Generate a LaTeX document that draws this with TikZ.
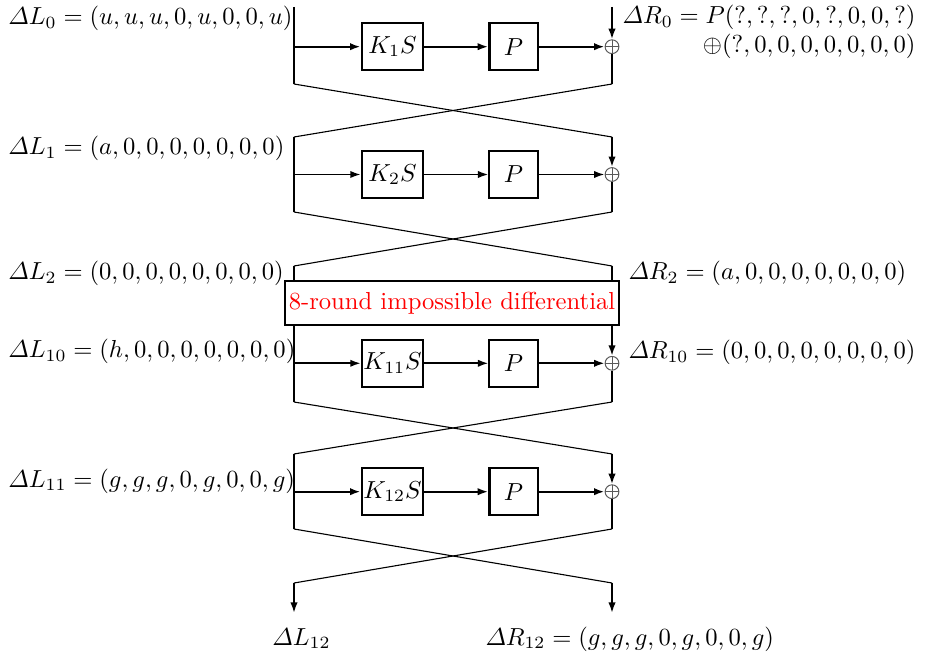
\documentclass[tikz,border=0pt]{standalone}
\usepackage{amsmath}
\usetikzlibrary{arrows.meta}
\begin{document}
\begin{tikzpicture}[x=0.4065pt,y=-0.4065pt,
  arr/.style={-{Latex[length=4.3pt,width=3pt]}},
  vline/.style={line width=0.8pt},
  hthick/.style={line width=0.9pt},
  hnorm/.style={line width=0.75pt},
  crossline/.style={line width=0.45pt},
  kbox/.style={draw,inner sep=0pt,minimum width=25pt,minimum height=19pt},
  pbox/.style={draw,inner sep=0pt,minimum width=19.6pt,minimum height=19pt},
  xorn/.style={draw=black!65,line width=0.4pt,circle,inner sep=0pt,minimum size=5.6pt,
    path picture={\draw[black!65,line width=0.4pt] (path picture bounding box.north) -- (path picture bounding box.south)
      (path picture bounding box.west) -- (path picture bounding box.east);}},
  lab/.style={inner sep=0pt},
  bigbox/.style={draw,line width=0.95pt,inner sep=0pt,minimum width=135.8pt,minimum height=17.9pt,text=red}
]
\useasboundingbox (0,0) rectangle (927,654);
% ---------- round 1
\coordinate (l1t) at (294,7);
\coordinate (r1t) at (612,7);
\coordinate (l1h) at (294,46.7);
\coordinate (l1a) at (294,84);
\coordinate (r1a) at (612,84);
\coordinate (l1b) at (294,137);
\coordinate (r1b) at (612,137);
\node[kbox,line width=0.9pt] (k1) at (392.5,46.7) {$K_1S$};
\node[pbox,line width=0.9pt] (p1) at (513.5,46.7) {$P$};
\node[xorn] (x1) at (612,46.7) {};
\draw[vline] (l1t) -- (l1a);
\draw[vline,arr] (r1t) -- (x1.north);
\draw[vline] (x1.south) -- (r1a);
\draw[hthick,arr] (l1h) -- (k1.west);
\draw[hthick,arr] (k1.east) -- (p1.west);
\draw[hthick,arr] (p1.east) -- (x1.west);
\draw[crossline] (l1a) -- (r1b);
\draw[crossline] (r1a) -- (l1b);
% ---------- round 2
\coordinate (l2h) at (294,174.5);
\coordinate (l2a) at (294,212);
\coordinate (r2a) at (612,212);
\coordinate (l2b) at (294,266);
\coordinate (r2b) at (612,266);
\node[kbox,line width=0.75pt] (k2) at (392.5,174.5) {$K_2S$};
\node[pbox,line width=0.75pt] (p2) at (513.5,174.5) {$P$};
\node[xorn] (x2) at (612,174.5) {};
\draw[vline] (l1b) -- (l2a);
\draw[vline,arr] (r1b) -- (x2.north);
\draw[vline] (x2.south) -- (r2a);
\draw[hnorm,arr] (l2h) -- (k2.west);
\draw[hnorm,arr] (k2.east) -- (p2.west);
\draw[hnorm,arr] (p2.east) -- (x2.west);
\draw[crossline] (l2a) -- (r2b);
\draw[crossline] (r2a) -- (l2b);
% ---------- big box
\node[bigbox] (big) at (452,303) {8-round impossible differential};
\draw[vline] (l2b) -- (l2b |- big.north);
\draw[vline] (r2b) -- (r2b |- big.north);
% ---------- round 11
\coordinate (l11s) at (294,325);
\coordinate (r11s) at (612,325);
\coordinate (l11h) at (294,363.3);
\coordinate (l11a) at (294,402);
\coordinate (r11a) at (612,402);
\coordinate (l11b) at (294,454);
\coordinate (r11b) at (612,454);
\node[kbox,line width=0.75pt] (k11) at (392.5,363.3) {$K_{11}S$};
\node[pbox,line width=0.75pt] (p11) at (513.5,363.3) {$P$};
\node[xorn] (x11) at (612,363.3) {};
\draw[vline] (l11s |- big.south) -- (l11a);
\draw[vline,arr] (r11s |- big.south) -- (x11.north);
\draw[vline] (x11.south) -- (r11a);
\draw[hnorm,arr] (l11h) -- (k11.west);
\draw[hnorm,arr] (k11.east) -- (p11.west);
\draw[hnorm,arr] (p11.east) -- (x11.west);
\draw[crossline] (l11a) -- (r11b);
\draw[crossline] (r11a) -- (l11b);
% ---------- round 12
\coordinate (l12h) at (294,491.7);
\coordinate (l12a) at (294,529);
\coordinate (r12a) at (612,529);
\coordinate (l12b) at (294,583);
\coordinate (r12b) at (612,583);
\coordinate (l12e) at (294,613);
\coordinate (r12e) at (612,613);
\node[kbox,line width=0.9pt] (k12) at (392.5,491.7) {$K_{12}S$};
\node[pbox,line width=0.9pt] (p12) at (513.5,491.7) {$P$};
\node[xorn] (x12) at (612,491.7) {};
\draw[vline] (l11b) -- (l12a);
\draw[vline,arr] (r11b) -- (x12.north);
\draw[vline] (x12.south) -- (r12a);
\draw[hthick,arr] (l12h) -- (k12.west);
\draw[hthick,arr] (k12.east) -- (p12.west);
\draw[hthick,arr] (p12.east) -- (x12.west);
\draw[crossline] (l12a) -- (r12b);
\draw[crossline] (r12a) -- (l12b);
\draw[vline,arr] (l12b) -- (l12e);
\draw[vline,arr] (r12b) -- (r12e);
% ---------- labels
\node[lab,anchor=base west] (dl0) at (8,25) {$\varDelta L_0=(u,u,u,0,u,0,0,u)$};
\node[lab,anchor=base east,align=right] (dr0) at (916,53) {$\varDelta R_0=P(?,?,?,0,?,0,0,?)$\\$\oplus(?,0,0,0,0,0,0,0)$};
\node[lab,anchor=base west] (dl1) at (8,155) {$\varDelta L_1=(a,0,0,0,0,0,0,0)$};
\node[lab,anchor=base west] (dl2) at (8,280) {$\varDelta L_2=(0,0,0,0,0,0,0,0)$};
\node[lab,anchor=base west] (dr2) at (628,280) {$\varDelta R_2=(a,0,0,0,0,0,0,0)$};
\node[lab,anchor=base west] (dl10) at (8,358) {$\varDelta L_{10}=(h,0,0,0,0,0,0,0)$};
\node[lab,anchor=base west] (dr10) at (628,359) {$\varDelta R_{10}=(0,0,0,0,0,0,0,0)$};
\node[lab,anchor=base west] (dl11) at (8,487) {$\varDelta L_{11}=(g,g,g,0,g,0,0,g)$};
\node[lab,anchor=base west] (dl12) at (272,645) {$\varDelta L_{12}$};
\node[lab,anchor=base west] (dr12) at (485,645) {$\varDelta R_{12}=(g,g,g,0,g,0,0,g)$};
\end{tikzpicture}
\end{document}
